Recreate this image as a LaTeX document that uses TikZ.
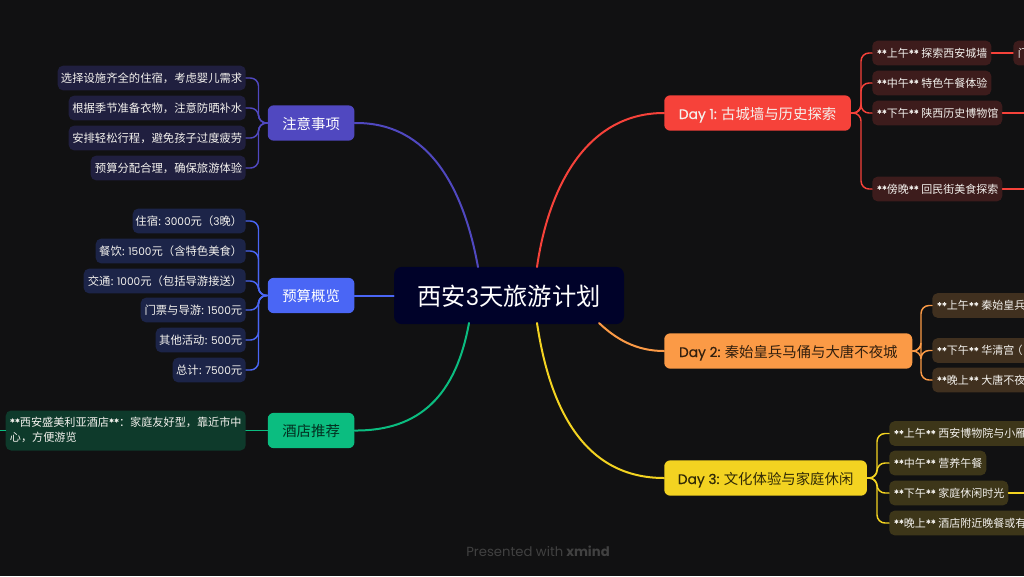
\documentclass[tikz,border=0pt]{standalone}
\usepackage{fontspec}
\setmainfont{Noto Sans CJK SC}
\newfontfamily\lat[Scale=0.93]{Poppins}
\newfontfamily\latb[Scale=0.96,FakeBold=0.35]{Poppins}
\newfontfamily\stf[Scale=0.93,FakeBold=0.6]{Poppins}
\newfontfamily\wmf{Poppins}
\definecolor{bgc}{HTML}{111112}
\definecolor{rootc}{HTML}{000229}
\definecolor{redc}{HTML}{F6423A}
\definecolor{orac}{HTML}{FB9A46}
\definecolor{yelc}{HTML}{F3D321}
\definecolor{grnc}{HTML}{0BBD80}
\definecolor{bluc}{HTML}{4A66F5}
\definecolor{indc}{HTML}{5048C0}
\definecolor{redl}{HTML}{3D1C1C}
\definecolor{oral}{HTML}{40301F}
\definecolor{yell}{HTML}{3D3619}
\definecolor{grnl}{HTML}{0E3A2B}
\definecolor{blul}{HTML}{1C2448}
\definecolor{indl}{HTML}{201F3F}
\definecolor{txtl}{HTML}{F4F2EE}
\tikzset{
 x=0.75pt,y=-0.75pt,
 rootbox/.style={fill=rootc,rounded corners=6pt,text=white,font=\fontsize{18.2}{22}\selectfont,minimum width=172.5pt,minimum height=43pt,inner sep=0pt,text height=17pt,text depth=2pt},
 mainbox/.style={fill=#1,rounded corners=4.5pt,font=\fontsize{10.8}{13}\selectfont,minimum height=26.5pt,inner sep=0pt,anchor=west,text height=10pt,text depth=1pt},
 leaf/.style={fill=#1,rounded corners=4pt,text=txtl,font=\fontsize{8.5}{10}\selectfont,minimum height=18.5pt,inner sep=0pt,align=left},
 rleaf/.style={leaf=#1,font=\fontsize{8.25}{10}\selectfont,anchor=west},
 branch/.style={draw=#1,line width=1.5pt,line cap=round},
 sub/.style={draw=#1,line width=1.1pt,line cap=round},
}
\newcommand{\stars}[1]{{\stf **}#1{\stf **}}
\newcommand{\lbox}[2]{\makebox[\dimexpr0.75pt*#1\relax][l]{\hspace{3.5pt}#2}}
\newcommand{\rbox}[2]{\makebox[\dimexpr0.75pt*#1\relax][r]{#2\hspace{2.6pt}}}
\begin{document}
\begin{tikzpicture}
\useasboundingbox (0,0) rectangle (1024,576);
\clip (0,0) rectangle (1024,576);
\fill[bgc] (0,0) rectangle (1024,576);

% root
\node[rootbox] (root) at (509,295.5) {西安{\lat 3}天旅游计划};

% main branches, left
\node[mainbox=indc,text=white,minimum width=65pt] (care) at (267.5,123) {注意事项};
\node[mainbox=bluc,text=white,minimum width=65pt] (budget) at (267.5,295.5) {预算概览};
\node[mainbox=grnc,text=black!75!grnc,minimum width=65pt] (hotel) at (267.5,430.5) {酒店推荐};
% main branches, right
\node[mainbox=redc,text=txtl,minimum width=140pt] (d1) at (664,113) {{\latb Day 1:} 古城墙与历史探索};
\node[mainbox=orac,text=black!80!orac,minimum width=186pt] (d2) at (664,351) {{\latb Day 2:} 秦始皇兵马俑与大唐不夜城};
\node[mainbox=yelc,text=black!80!yelc,minimum width=152pt] (d3) at (664,478) {{\latb Day 3:} 文化体验与家庭休闲};

% curves
\coordinate (ra) at (478,267);
\coordinate (rb) at (537,267);
\coordinate (rc) at (469,323);
\coordinate (rd) at (537,323);
\coordinate (re) at (599,323);
\draw[branch=indc] (care.east) .. controls (430,122) and (464,190) .. (ra);
\draw[branch=bluc] (budget.east) -- (root.west);
\draw[branch=grnc] (hotel.east) .. controls (420,431) and (456,395) .. (rc);
\draw[branch=redc] (rb) .. controls (548,190) and (585,113) .. (d1.west);
\draw[branch=orac] (re) .. controls (615,338) and (635,351) .. (d2.west);
\draw[branch=yelc] (rd) .. controls (550,410) and (585,478) .. (d3.west);

% left leaves
\foreach \n/\w/\y/\t in {ca/188/78/选择设施齐全的住宿，考虑婴儿需求,cb/177/108/根据季节准备衣物，注意防晒补水,cc/177/138/安排轻松行程，避免孩子过度疲劳,cd/155/168/预算分配合理，确保旅游体验}{
 \node[leaf=indl,anchor=east] (\n) at (246,\y) {\rbox{\w}{\t}};
}
\foreach \n/\w/\y/\t in {ba/113/221/住宿: {\lat 3000}元（{\lat 3}晚）,bb/150/251/餐饮: {\lat 1500}元（含特色美食）,bc/162/281/交通: {\lat 1000}元（包括导游接送）,bd/105/310/门票与导游: {\lat 1500}元,be/90/340/其他活动: {\lat 500}元,bf/73/370/总计: {\lat 7500}元}{
 \node[leaf=blul,anchor=east] (\n) at (246,\y) {\rbox{\w}{\t}};
}
\node[leaf=grnl,anchor=east,minimum width=180pt,minimum height=30pt,font=\fontsize{8.35}{12.5}\selectfont] (hh) at (246,430.5) {\begin{tabular}{@{}l@{}}\stars{西安盛美利亚酒店}：家庭友好型，靠近市中\\[-1pt]心，方便游览\end{tabular}};
\coordinate (hl) at (0,430.5);
\draw[sub=grnc] (hl) -- (hh.west);
\draw[sub=grnc] (hh.east) -- (hotel.west);

\foreach \n in {ca,cb,cc,cd}{
 \draw[sub=indc,rounded corners=6pt] (\n.east) -- (258.5,0 |- \n.east) -- (258.5,0 |- care.west) -- (care.west);
}
\foreach \n in {ba,bb,bc,bd,be,bf}{
 \draw[sub=bluc,rounded corners=6pt] (\n.east) -- (258.5,0 |- \n.east) -- (258.5,0 |- budget.west) -- (budget.west);
}

% right leaves
\foreach \n/\w/\y/\t in {a/119/53/\stars{上午} 探索西安城墙,b/119/83/\stars{中午} 特色午餐体验,c/130/113/\stars{下午} 陕西历史博物馆,d/130/189/\stars{傍晚} 回民街美食探索}{
 \node[rleaf=redl] (r\n) at (872,\y) {\lbox{\w}{\t}};
}
\foreach \n/\w/\y/\t in {a/110/305.5/\stars{上午} 秦始皇兵,b/110/350.5/\stars{下午} 华清宫\hspace{-2pt}（,c/110/380/\stars{晚上} 大唐不夜}{
 \node[rleaf=oral] (o\n) at (932,\y) {\lbox{\w}{\t}};
}
\foreach \n/\w/\y/\t in {a/150/433.5/\stars{上午} 西安博物院与小雁,b/97/463/\stars{中午} 营养午餐,c/119/493/\stars{下午} 家庭休闲时光,d/150/523/\stars{晚上} 酒店附近晚餐或有}{
 \node[rleaf=yell] (y\n) at (889,\y) {\lbox{\w}{\t}};
}
\node[rleaf=redl] (rx) at (1013,53) {\lbox{30}{门}};
\coordinate (ry) at (1024,113);
\coordinate (rz) at (1024,189);
\coordinate (yz) at (1024,493);
\draw[sub=redc] (ra.east) -- (rx.west);
\draw[sub=redc] (rc.east) -- (ry);
\draw[sub=redc] (rd.east) -- (rz);
\draw[sub=yelc] (yc.east) -- (yz);

\foreach \n in {ra,rb,rc,rd}{
 \draw[sub=redc,rounded corners=6pt] (d1.east) -- (861,0 |- d1.east) -- (861,0 |- \n.west) -- (\n.west);
}
\foreach \n in {oa,ob,oc}{
 \draw[sub=orac,rounded corners=6pt] (d2.east) -- (921,0 |- d2.east) -- (921,0 |- \n.west) -- (\n.west);
}
\foreach \n in {ya,yb,yc,yd}{
 \draw[sub=yelc,rounded corners=6pt] (d3.east) -- (877,0 |- d3.east) -- (877,0 |- \n.west) -- (\n.west);
}

% watermark
\node[text=white!20!bgc,font=\fontsize{9.9}{12}\selectfont,inner sep=0pt] (wm) at (538,551) {{\wmf Presented with} {\wmf\bfseries xmind}};
\end{tikzpicture}
\end{document}
